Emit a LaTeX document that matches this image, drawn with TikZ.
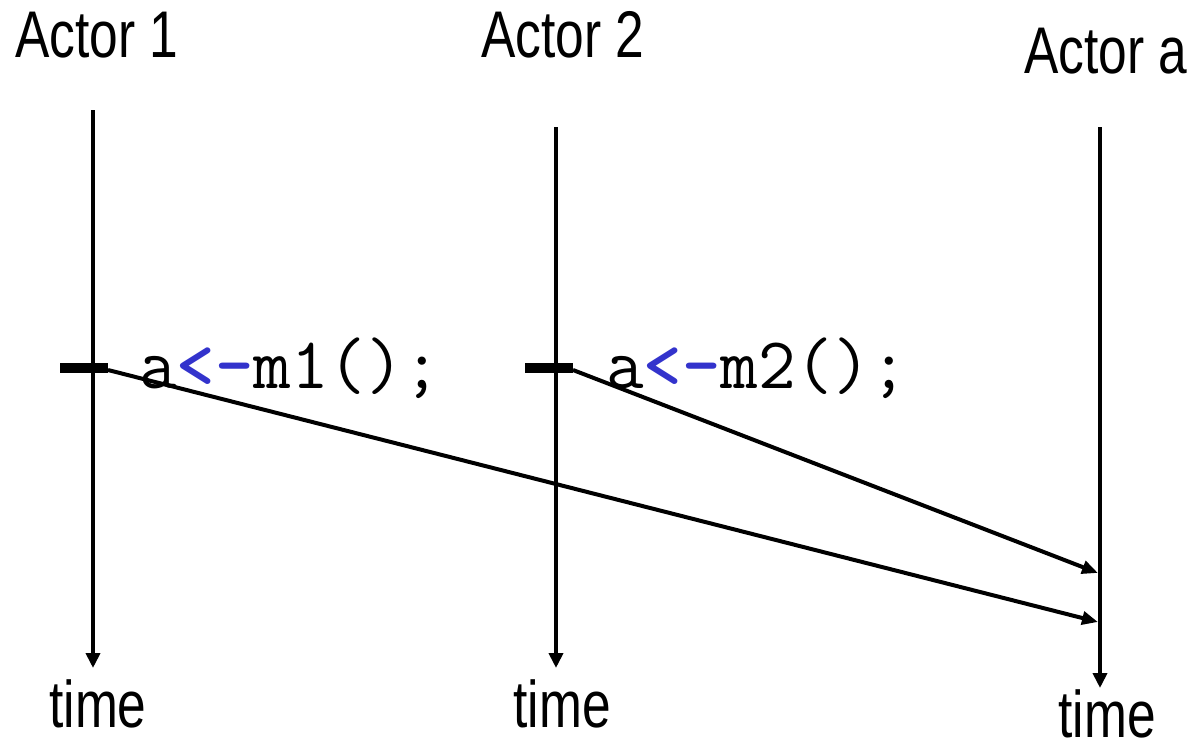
\documentclass[tikz,border=0pt]{standalone}
\usepackage{fontspec}
\usetikzlibrary{arrows.meta}
\newfontfamily\labfont[FakeStretch=0.78]{Liberation Sans}
\definecolor{opblue}{RGB}{51,51,204}
\begin{document}
\begin{tikzpicture}[x=1pt,y=-1pt,
  lab/.style={anchor=base,inner sep=0pt,font=\labfont\fontsize{66}{70}\selectfont},
  code/.style={anchor=base west,inner sep=0pt,font=\ttfamily\fontsize{73}{78}\selectfont},
  life/.style={line width=4pt,-{Triangle[length=15pt,width=14pt]}},
  msg/.style={line width=4pt,-{Triangle[length=16pt,width=13pt]}},
  bar/.style={line width=10pt}]
\useasboundingbox (0,0) rectangle (1195,747);
% labels
\node[lab] (a1) at (97,57) {Actor 1};
\node[lab] (a2) at (563,57) {Actor 2};
\node[lab] (a3) at (1106,73) {Actor a};
\node[lab] (t1) at (98,727) {time};
\node[lab] (t2) at (562,727) {time};
\node[lab] (t3) at (1107,737) {time};
% lifelines
\coordinate (l1t) at (93,110);
\coordinate (l1b) at (93,668);
\coordinate (l2t) at (556,127);
\coordinate (l2b) at (556,668);
\coordinate (l3t) at (1100,127);
\coordinate (l3b) at (1100,688);
\draw[life] (l1t) -- (l1b);
\draw[life] (l2t) -- (l2b);
\draw[life] (l3t) -- (l3b);
% send bars
\coordinate (b1l) at (60,368);
\coordinate (b1r) at (108,368);
\coordinate (b2l) at (525,368);
\coordinate (b2r) at (573,368);
\draw[bar] (b1l) -- (b1r);
\draw[bar] (b2l) -- (b2r);
% code text
\node[code] (c1) at (139,388) {a\textcolor{opblue}{\bfseries<-}m1();};
\node[code] (c2) at (606,388) {a\textcolor{opblue}{\bfseries<-}m2();};
% messages
\coordinate (s1) at (108,370);
\coordinate (s2) at (573,370);
\coordinate (r1) at (1098,622);
\coordinate (r2) at (1098,573);
\draw[msg] (s1) -- (r1);
\draw[msg] (s2) -- (r2);
\end{tikzpicture}
\end{document}
